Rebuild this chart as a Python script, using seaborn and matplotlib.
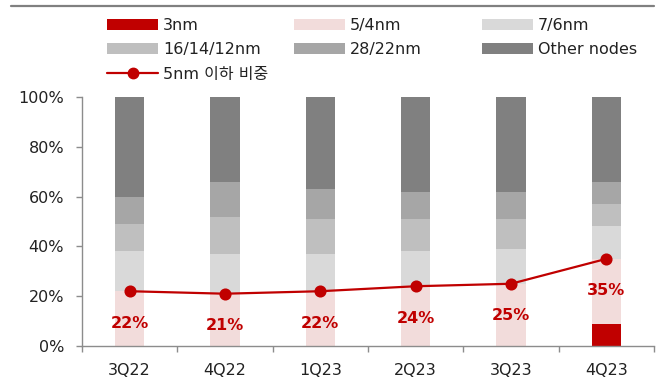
import matplotlib
matplotlib.use("Agg")
import matplotlib.pyplot as plt
from matplotlib.patches import Patch
from matplotlib.lines import Line2D
import numpy as np
import pandas as pd
import seaborn as sns

# Foundry revenue share by process node (%)
quarters = ["3Q22", "4Q22", "1Q23", "2Q23", "3Q23", "4Q23"]
nm3 = [0, 0, 0, 0, 0, 9]
nm5_4 = [22, 21, 22, 24, 25, 26]
nm7_6 = [16, 16, 15, 14, 14, 13]
nm16_12 = [11, 15, 14, 13, 12, 9]
nm28_22 = [11, 14, 12, 11, 11, 9]
other = [40, 34, 37, 38, 38, 34]
share_5nm_below = [22, 21, 22, 24, 25, 35]

series_names = ["3nm", "5/4nm", "7/6nm", "16/14/12nm", "28/22nm", "Other nodes"]
series_vals = [nm3, nm5_4, nm7_6, nm16_12, nm28_22, other]
series_colors = ["#C00000", "#F2DCDB", "#D9D9D9", "#BFBFBF", "#A6A6A6", "#808080"]
line_color = "#C00000"
line_label = "5nm 이하 비중"

sns.set_style("ticks")
plt.rcParams["font.family"] = ["DejaVu Sans", "Noto Sans CJK KR"]

fig = plt.figure(figsize=(6.62, 3.82), dpi=100)
ax = fig.add_axes([82 / 662, 1 - 346 / 382, 572 / 662, 249 / 382])

# stacked bars: draw cumulative totals from the top layer down
df = pd.DataFrame({"quarter": quarters})
cum = np.cumsum(np.array(series_vals), axis=0)
for i in range(len(series_names) - 1, -1, -1):
    df["v"] = cum[i]
    sns.barplot(data=df, x="quarter", y="v", color=series_colors[i],
                saturation=1, width=0.31, ax=ax, linewidth=0, zorder=2)

# share of 5nm-and-below line
sns.pointplot(x=quarters, y=share_5nm_below, color=line_color, markers="o",
              markersize=7.5, linewidth=1.6, ax=ax, zorder=5)

for i, v in enumerate(share_5nm_below):
    ax.annotate(f"{v}%", (i, v), xytext=(0, -32), textcoords="offset pixels",
                ha="center", va="center", color=line_color,
                fontsize=11.5, fontweight="bold", zorder=6)

ax.set_ylim(0, 100)
ax.set_xlim(-0.5, len(quarters) - 0.5)
ax.set_yticks(range(0, 101, 20))
ax.set_yticklabels([f"{t}%" for t in range(0, 101, 20)])
ax.set_xlabel("")
ax.set_ylabel("")

spine_c = "#8C8C8C"
text_c = "#222222"
for s in ["top", "right"]:
    ax.spines[s].set_visible(False)
for s in ["left", "bottom"]:
    ax.spines[s].set_color(spine_c)
    ax.spines[s].set_linewidth(1.0)

ax.set_xticks(np.arange(-0.5, len(quarters), 1.0), minor=True)
ax.tick_params(axis="x", which="major", length=0, pad=12, labelsize=11.5)
ax.tick_params(axis="x", which="minor", length=4, color=spine_c, width=1.0)
ax.tick_params(axis="y", which="major", length=4.3, color=spine_c, width=1.0,
               labelsize=11.5, pad=8.5)
for lbl in ax.get_xticklabels() + ax.get_yticklabels():
    lbl.set_color(text_c)

# legend, laid out as three fixed-width columns
patches = [Patch(facecolor=c, edgecolor="none", label=n)
           for n, c in zip(series_names, series_colors)]
line_handle = Line2D([], [], color=line_color, lw=1.6, marker="o",
                     markersize=7.5, label=line_label)
columns = [
    (107, [patches[0], patches[3], line_handle]),
    (294, [patches[1], patches[4]]),
    (482, [patches[2], patches[5]]),
]
for x0, hs in columns:
    leg = fig.legend(handles=hs, loc="upper left",
                     bbox_to_anchor=(x0 / 662, 1 - 18 / 382), frameon=False,
                     fontsize=11.5, handlelength=3.2, handleheight=0.62,
                     handletextpad=0.3, labelspacing=0.58,
                     borderaxespad=0, borderpad=0)
    for t in leg.get_texts():
        t.set_color(text_c)

# top rule
fig.add_artist(Line2D([11 / 662, 654 / 662], [1 - 6 / 382, 1 - 6 / 382],
                      color="#808080", lw=1.6))

fig.savefig("out.png", dpi=100)
